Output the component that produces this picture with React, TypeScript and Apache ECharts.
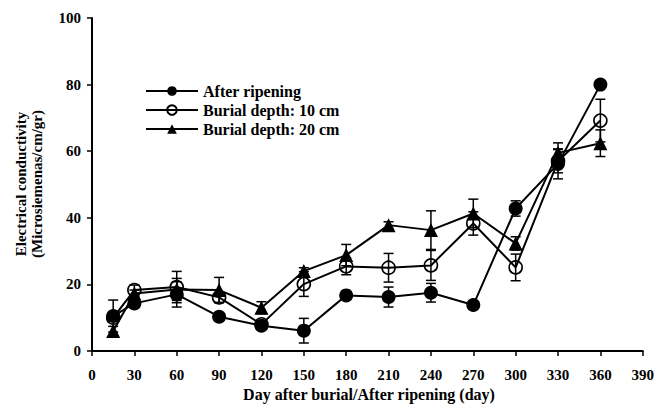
import React, { useEffect, useRef } from "react";
import * as echarts from "echarts";

const days = [15, 30, 60, 90, 120, 150, 180, 210, 240, 270, 300, 330, 360];
const afterRipening = [10.5, 14.3, 17.0, 10.3, 7.6, 6.1, 16.7, 16.2, 17.5, 13.8, 42.8, 56.2, 80.0];
const afterRipeningErr = [4.8, 1.0, 3.8, 0.8, 0.5, 3.7, 0.5, 3.0, 2.8, 0.5, 2.3, 4.5, 0.5];
const depth10 = [10.0, 18.3, 19.2, 16.1, 8.0, 20.1, 25.4, 25.0, 25.7, 38.3, 25.1, 57.0, 69.2];
const depth10Err = [1.0, 1.5, 4.7, 1.5, 0.5, 3.7, 2.5, 4.3, 4.5, 3.5, 4.0, 3.5, 6.4];
const depth20 = [6.0, 17.3, 18.5, 18.3, 13.0, 24.0, 28.8, 37.8, 36.3, 41.3, 32.3, 59.5, 62.4];
const depth20Err = [1.4, 1.0, 3.3, 3.8, 1.8, 1.0, 3.2, 1.0, 5.8, 4.3, 2.0, 3.0, 4.0];

const seriesNames = ["After ripening", "Burial depth: 10 cm", "Burial depth: 20 cm"];
const xTicks = { min: 0, max: 390, interval: 30 };
const yTicks = { min: 0, max: 100, interval: 20 };

const FONT = "Liberation Serif";

function pairs(vals: number[]) {
  return days.map((d, i) => [d, vals[i]]);
}
function errData(vals: number[], errs: number[]) {
  return days.map((d, i) => [d, vals[i] - errs[i], vals[i] + errs[i]]);
}

function errorSeries(vals: number[], errs: number[]) {
  return {
    type: "custom",
    data: errData(vals, errs),
    z: 4,
    silent: true,
    renderItem: (params: any, api: any) => {
      const x = api.value(0);
      const lo = api.coord([x, api.value(1)]);
      const hi = api.coord([x, api.value(2)]);
      const w = 5;
      const st = { stroke: "#000", lineWidth: 1.5 };
      return {
        type: "group",
        children: [
          { type: "line", shape: { x1: hi[0], y1: hi[1], x2: lo[0], y2: lo[1] }, style: st },
          { type: "line", shape: { x1: hi[0] - w, y1: hi[1], x2: hi[0] + w, y2: hi[1] }, style: st },
          { type: "line", shape: { x1: lo[0] - w, y1: lo[1], x2: lo[0] + w, y2: lo[1] }, style: st },
        ],
      };
    },
  };
}

export default function App() {
  const ref = useRef<HTMLDivElement>(null);
  useEffect(() => {
    if (!ref.current) return;
    const chart = echarts.init(ref.current, undefined, { renderer: "svg" });
    const lineBase = {
      type: "line",
      lineStyle: { color: "#000", width: 2 },
      z: 3,
    };
    chart.setOption({
      animation: false,
      backgroundColor: "#fff",
      grid: { left: 92, right: 10, top: 18, bottom: 53 },
      legend: {
        data: seriesNames,
        orient: "vertical",
        left: 140,
        top: 78,
        itemWidth: 52,
        itemHeight: 12,
        itemGap: 3,
        textStyle: { fontFamily: FONT, fontWeight: "bold", fontSize: 16, color: "#000" },
      },
      xAxis: {
        type: "value",
        ...xTicks,
        axisLine: { lineStyle: { color: "#000", width: 2 } },
        axisTick: { show: true, length: 5, lineStyle: { color: "#000", width: 1.5 } },
        splitLine: { show: false },
        axisLabel: { fontFamily: FONT, fontWeight: "bold", fontSize: 15, color: "#000", margin: 16 },
      },
      yAxis: {
        type: "value",
        ...yTicks,
        axisLine: { show: true, lineStyle: { color: "#000", width: 2 } },
        axisTick: { show: true, length: 5, lineStyle: { color: "#000", width: 1.5 } },
        splitLine: { show: false },
        axisLabel: { fontFamily: FONT, fontWeight: "bold", fontSize: 15, color: "#000", margin: 11 },
      },
      graphic: [
        {
          type: "text",
          x: 29,
          y: 184,
          rotation: Math.PI / 2,
          style: {
            text: "Electrical conductivity\n(Microsiemenas/cm/gr)",
            fontFamily: FONT,
            fontWeight: "bold",
            fontSize: 15,
            lineHeight: 16,
            fill: "#000",
            align: "center",
            verticalAlign: "middle",
          },
        },
        {
          type: "text",
          x: 369,
          y: 394,
          style: {
            text: "Day after burial/After ripening (day)",
            fontFamily: FONT,
            fontWeight: "bold",
            fontSize: 16,
            fill: "#000",
            align: "center",
            verticalAlign: "middle",
          },
        },
      ],
      series: [
        {
          ...lineBase,
          name: seriesNames[0],
          data: pairs(afterRipening),
          symbol: "circle",
          symbolSize: 14,
          itemStyle: { color: "#000" },
        },
        {
          ...lineBase,
          name: seriesNames[1],
          data: pairs(depth10),
          symbol: "circle",
          symbolSize: 13,
          itemStyle: { color: "rgba(255,255,255,0)", borderColor: "#000", borderWidth: 1.6 },
        },
        {
          ...lineBase,
          name: seriesNames[2],
          data: pairs(depth20),
          symbol: "triangle",
          symbolSize: 14,
          itemStyle: { color: "#000" },
        },
        errorSeries(afterRipening, afterRipeningErr),
        errorSeries(depth10, depth10Err),
        errorSeries(depth20, depth20Err),
      ],
    });
    return () => chart.dispose();
  }, []);
  return (
    <div
      ref={ref}
      style={{ position: "fixed", left: 0, top: 0, width: 657, height: 404, background: "#fff" }}
    />
  );
}
